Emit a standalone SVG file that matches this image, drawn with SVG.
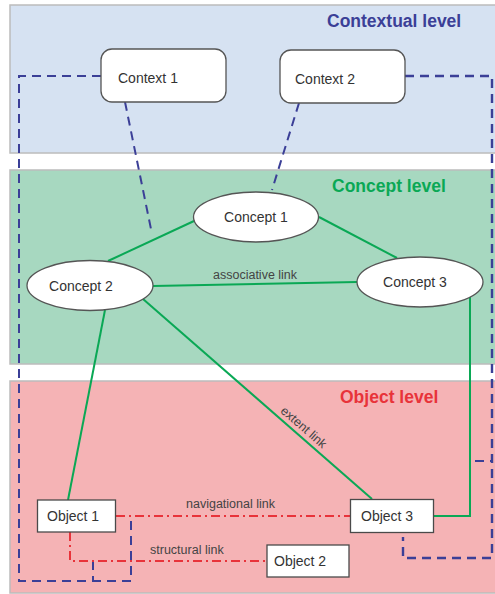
<svg xmlns="http://www.w3.org/2000/svg" width="495" height="594" viewBox="0 0 495 594">
  <style>
    .band { stroke: #bcbcbc; stroke-width: 1.5; }
    .title { font-family: "Liberation Sans", Arial, sans-serif; font-weight: bold; font-size: 17.5px; }
    .ctx { fill: #ffffff; stroke: #555555; stroke-width: 1.3; }
    .obj { fill: #ffffff; stroke: #4a4a4a; stroke-width: 1.3; }
    .label { font-family: "Liberation Sans", Arial, sans-serif; font-size: 14px; fill: #333333; }
    .link-label { font-family: "Liberation Sans", Arial, sans-serif; font-size: 12.5px; fill: #444444; }
    .ctx-link { fill: none; stroke: #3b3f97; stroke-width: 2; stroke-dasharray: 9 6; }
    .concept-link { fill: none; stroke: #0aa855; stroke-width: 2; }
    .obj-link { fill: none; stroke: #e8333a; stroke-width: 2; stroke-dasharray: 9 4 2 4; }
  </style>

  <!-- level bands -->
  <g id="bands">
    <rect class="band" x="10" y="5" width="490" height="148" fill="#d6e2f2"/>
    <rect class="band" x="10" y="170" width="490" height="194" fill="#a7d8c0"/>
    <rect class="band" x="10" y="381" width="490" height="212" fill="#f5b3b5"/>
    <text class="title" x="327" y="26.5" fill="#3b3f97">Contextual level</text>
    <text class="title" x="332" y="191.5" fill="#0aa855">Concept level</text>
    <text class="title" x="340" y="402.5" fill="#e8333a">Object level</text>
  </g>

  <g id="connectors">
    <!-- context links (blue dashed) -->
    <path class="ctx-link" d="M101,76 H19 V581 H131 V516"/>
    <path class="ctx-link" d="M93,561 V581"/>
    <path class="ctx-link" d="M125,102 L152,234"/>
    <path class="ctx-link" d="M299,103 L272,190"/>
    <path class="ctx-link" d="M405,76 H492 V558 H403 V537" style="stroke-width:2.4"/>
    <path class="ctx-link" d="M475,461 H492"/>

    <!-- concept links (green) -->
    <path class="concept-link" d="M194,221 L108,261"/>
    <path class="concept-link" d="M319,217 L397,258"/>
    <path class="concept-link" d="M153,286 L357,282"/>
    <text class="link-label" x="213" y="278.5">associative link</text>
    <path class="concept-link" d="M105,310 L68,500"/>
    <path class="concept-link" d="M143,299 L372,499"/>
    <text class="link-label" transform="translate(304,427) rotate(41)" x="0" y="4.5" text-anchor="middle">extent link</text>
    <path class="concept-link" d="M470,297 V516 H434"/>

    <!-- object links (red dash-dot) -->
    <path class="obj-link" d="M116,516 H350"/>
    <text class="link-label" x="186" y="507.5">navigational link</text>
    <path class="obj-link" d="M70,532 V561 H267"/>
    <text class="link-label" x="150" y="553.5">structural link</text>
  </g>

  <!-- context nodes -->
  <g id="context1">
    <rect class="ctx" x="101" y="49" width="125" height="53" rx="11"/>
    <text class="label" x="118" y="83">Context 1</text>
  </g>
  <g id="context2">
    <rect class="ctx" x="280" y="50" width="125" height="53" rx="11"/>
    <text class="label" x="295" y="84">Context 2</text>
  </g>

  <!-- concept nodes -->
  <g id="concept1">
    <ellipse class="ctx" cx="256" cy="217" rx="62.5" ry="25"/>
    <text class="label" x="256" y="222" text-anchor="middle">Concept 1</text>
  </g>
  <g id="concept2">
    <ellipse class="ctx" cx="90" cy="285.5" rx="63" ry="25"/>
    <text class="label" x="81" y="290.5" text-anchor="middle">Concept 2</text>
  </g>
  <g id="concept3">
    <ellipse class="ctx" cx="420" cy="282" rx="63" ry="25"/>
    <text class="label" x="415" y="287" text-anchor="middle">Concept 3</text>
  </g>

  <!-- object nodes -->
  <g id="object1">
    <rect class="obj" x="37.5" y="500" width="78" height="32"/>
    <text class="label" x="47" y="521">Object 1</text>
  </g>
  <g id="object2">
    <rect class="obj" x="267" y="545" width="82" height="32"/>
    <text class="label" x="274" y="566">Object 2</text>
  </g>
  <g id="object3">
    <rect class="obj" x="350.5" y="499.5" width="83" height="33"/>
    <text class="label" x="361" y="521">Object 3</text>
  </g>
</svg>
